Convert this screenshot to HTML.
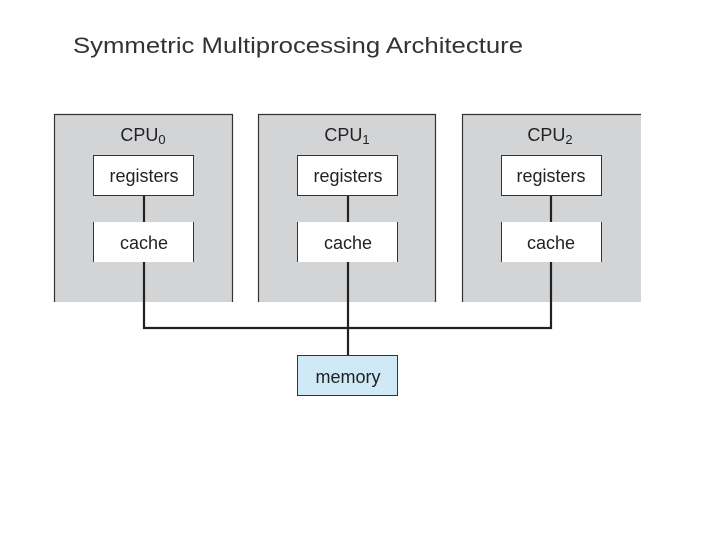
<!DOCTYPE html>
<html><head><meta charset="utf-8"><style>html,body{margin:0;padding:0;background:#fff}svg{display:block}</style></head><body>
<svg width="720" height="540" xmlns="http://www.w3.org/2000/svg" font-family="Liberation Sans, sans-serif">
<text x="73" y="53" font-size="22" fill="#333" textLength="450" lengthAdjust="spacingAndGlyphs">Symmetric Multiprocessing Architecture</text>
<g fill="#d3d4d6">
<rect x="54" y="114" width="179" height="188"/>
<rect x="258" y="114" width="178" height="188"/>
<rect x="462" y="114" width="179" height="188"/>
</g>
<g stroke="#333" stroke-width="1.2" fill="none">
<path d="M54.5 302V114.5H232.5V302"/>
<path d="M258.5 302V114.5H435.5V302"/>
<path d="M462.5 302V114.5H641"/>
</g>
<g fill="#fff" stroke="#333" stroke-width="1">
<rect x="93.5" y="155.5" width="100" height="40"/>
<rect x="297.5" y="155.5" width="100" height="40"/>
<rect x="501.5" y="155.5" width="100" height="40"/>
</g>
<g fill="#fff">
<rect x="93" y="222" width="101" height="40"/>
<rect x="297" y="222" width="101" height="40"/>
<rect x="501" y="222" width="101" height="40"/>
</g>
<g stroke="#333" stroke-width="1">
<path d="M93.5 222V262M193.5 222V262M297.5 222V262M397.5 222V262M501.5 222V262M601.5 222V262"/>
</g>
<g stroke="#222" stroke-width="2.2" fill="none">
<path d="M144 196V222M348 196V222M551 196V222"/>
<path d="M144 262V328H551V262M348 262V355"/>
</g>
<rect x="297.5" y="355.5" width="100" height="40" fill="#cfe9f6" stroke="#333" stroke-width="1"/>
<g font-size="18" fill="#222" text-anchor="middle">
<text x="144" y="182">registers</text>
<text x="348" y="182">registers</text>
<text x="551" y="182">registers</text>
<text x="144" y="249">cache</text>
<text x="348" y="249">cache</text>
<text x="551" y="249">cache</text>
<text x="348" y="383">memory</text>
<text x="143" y="141">CPU<tspan font-size="13" dy="3">0</tspan></text>
<text x="347" y="141">CPU<tspan font-size="13" dy="3">1</tspan></text>
<text x="550" y="141">CPU<tspan font-size="13" dy="3">2</tspan></text>
</g>
</svg>
</body></html>
